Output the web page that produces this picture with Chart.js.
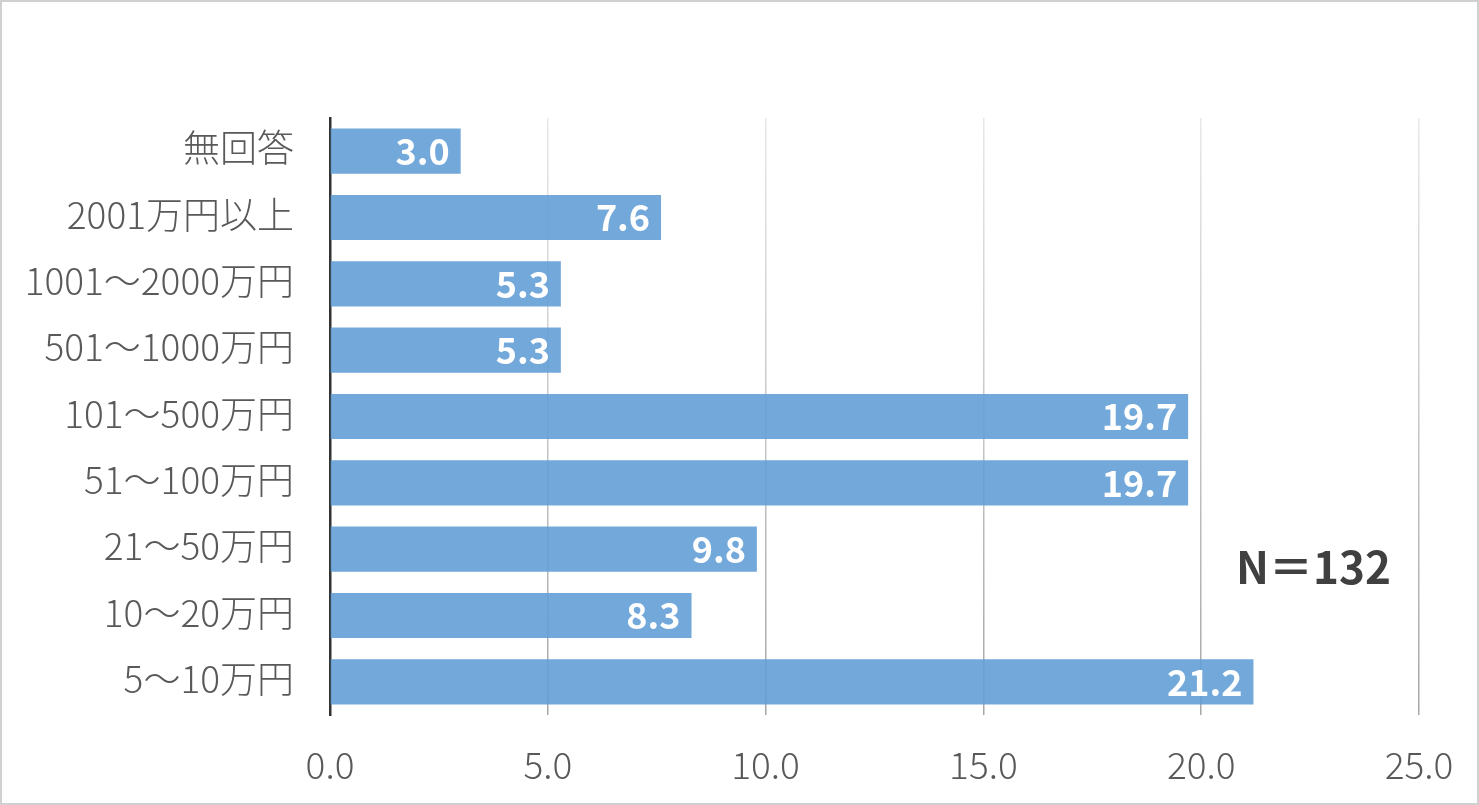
<!DOCTYPE html>
<html>
<head>
<meta charset="utf-8">
<script src="https://cdn.jsdelivr.net/npm/chart.js@4"></script>
<style>
  html, body { margin: 0; padding: 0; background: #fff; }
  #wrap { width: 1479px; height: 805px; box-sizing: border-box; border: 2px solid #d0d0d0; }
  canvas { display: block; }
</style>
</head>
<body>
<div id="wrap"><canvas id="myChart" width="1475" height="801"></canvas></div>
<script>
const categories = ['無回答', '2001万円以上', '1001～2000万円', '501～1000万円', '101～500万円', '51～100万円', '21～50万円', '10～20万円', '5～10万円'];
const values = [3.0, 7.6, 5.3, 5.3, 19.7, 19.7, 9.8, 8.3, 21.2];
const xTicks = [0, 5, 10, 15, 20, 25];
const note = 'N＝132';

const fontFamily = '"Noto Sans CJK JP", "Noto Sans", sans-serif';

// white value labels at the end of each bar
const barLabels = {
    id: 'barLabels',
    afterDatasetsDraw(chart) {
        const ctx = chart.ctx;
        const meta = chart.getDatasetMeta(0);
        ctx.save();
        ctx.font = 'bold 36px ' + fontFamily;
        ctx.fillStyle = '#ffffff';
        ctx.textAlign = 'right';
        ctx.textBaseline = 'middle';
        meta.data.forEach((bar, i) => {
            ctx.fillText(values[i].toFixed(1), bar.x - 11, bar.y);
        });
        // N note
        ctx.font = 'bold 44px ' + fontFamily;
        ctx.fillStyle = '#404040';
        ctx.textAlign = 'left';
        ctx.fillText(note, 1234, 565);
        ctx.restore();
    }
};

// grid lines fade from light at the top to darker at the bottom
const gridColor = (c) => {
    const area = c.chart.chartArea;
    if (!area) return '#c8c8c8';
    const g = c.chart.ctx.createLinearGradient(0, area.top, 0, area.bottom);
    g.addColorStop(0, '#e8e8e8');
    g.addColorStop(1, '#a6a6a6');
    return g;
};

const ctx = document.getElementById('myChart').getContext('2d');
const myChart = new Chart(ctx, {
    type: 'bar',
    data: {
        labels: categories,
        datasets: [{
            data: values,
            backgroundColor: 'rgba(100, 158, 214, 0.9)',
            borderWidth: 0,
            categoryPercentage: 1,
            barPercentage: 0.68
        }]
    },
    options: {
        indexAxis: 'y',
        responsive: false,
        animation: false,
        devicePixelRatio: 1,
        layout: { padding: { top: 116, right: 58, left: 0, bottom: 0 } },
        plugins: {
            legend: { display: false },
            tooltip: { enabled: false }
        },
        scales: {
            x: {
                min: 0,
                max: 25,
                afterBuildTicks: (s) => { s.ticks = xTicks.map(v => ({ value: v })); },
                afterFit: (s) => { s.height = 88; s.paddingLeft = 0; s.paddingRight = 0; },
                grid: { color: gridColor, lineWidth: 1.5, drawTicks: false },
                border: { display: false },
                ticks: {
                    padding: 28,
                    color: '#595959',
                    font: { family: fontFamily, size: 37, weight: 300 },
                    callback: (v) => Number(v).toFixed(1)
                }
            },
            y: {
                afterFit: (s) => { s.width = 328; s.paddingTop = 0; s.paddingBottom = 0; },
                grid: { display: false, drawTicks: false },
                border: { display: true, color: '#333333', width: 2.5 },
                ticks: {
                    padding: 36,
                    labelOffset: -3,
                    color: '#595959',
                    font: { family: fontFamily, size: 37, weight: 300 }
                }
            }
        }
    },
    plugins: [barLabels]
});
</script>
</body>
</html>
